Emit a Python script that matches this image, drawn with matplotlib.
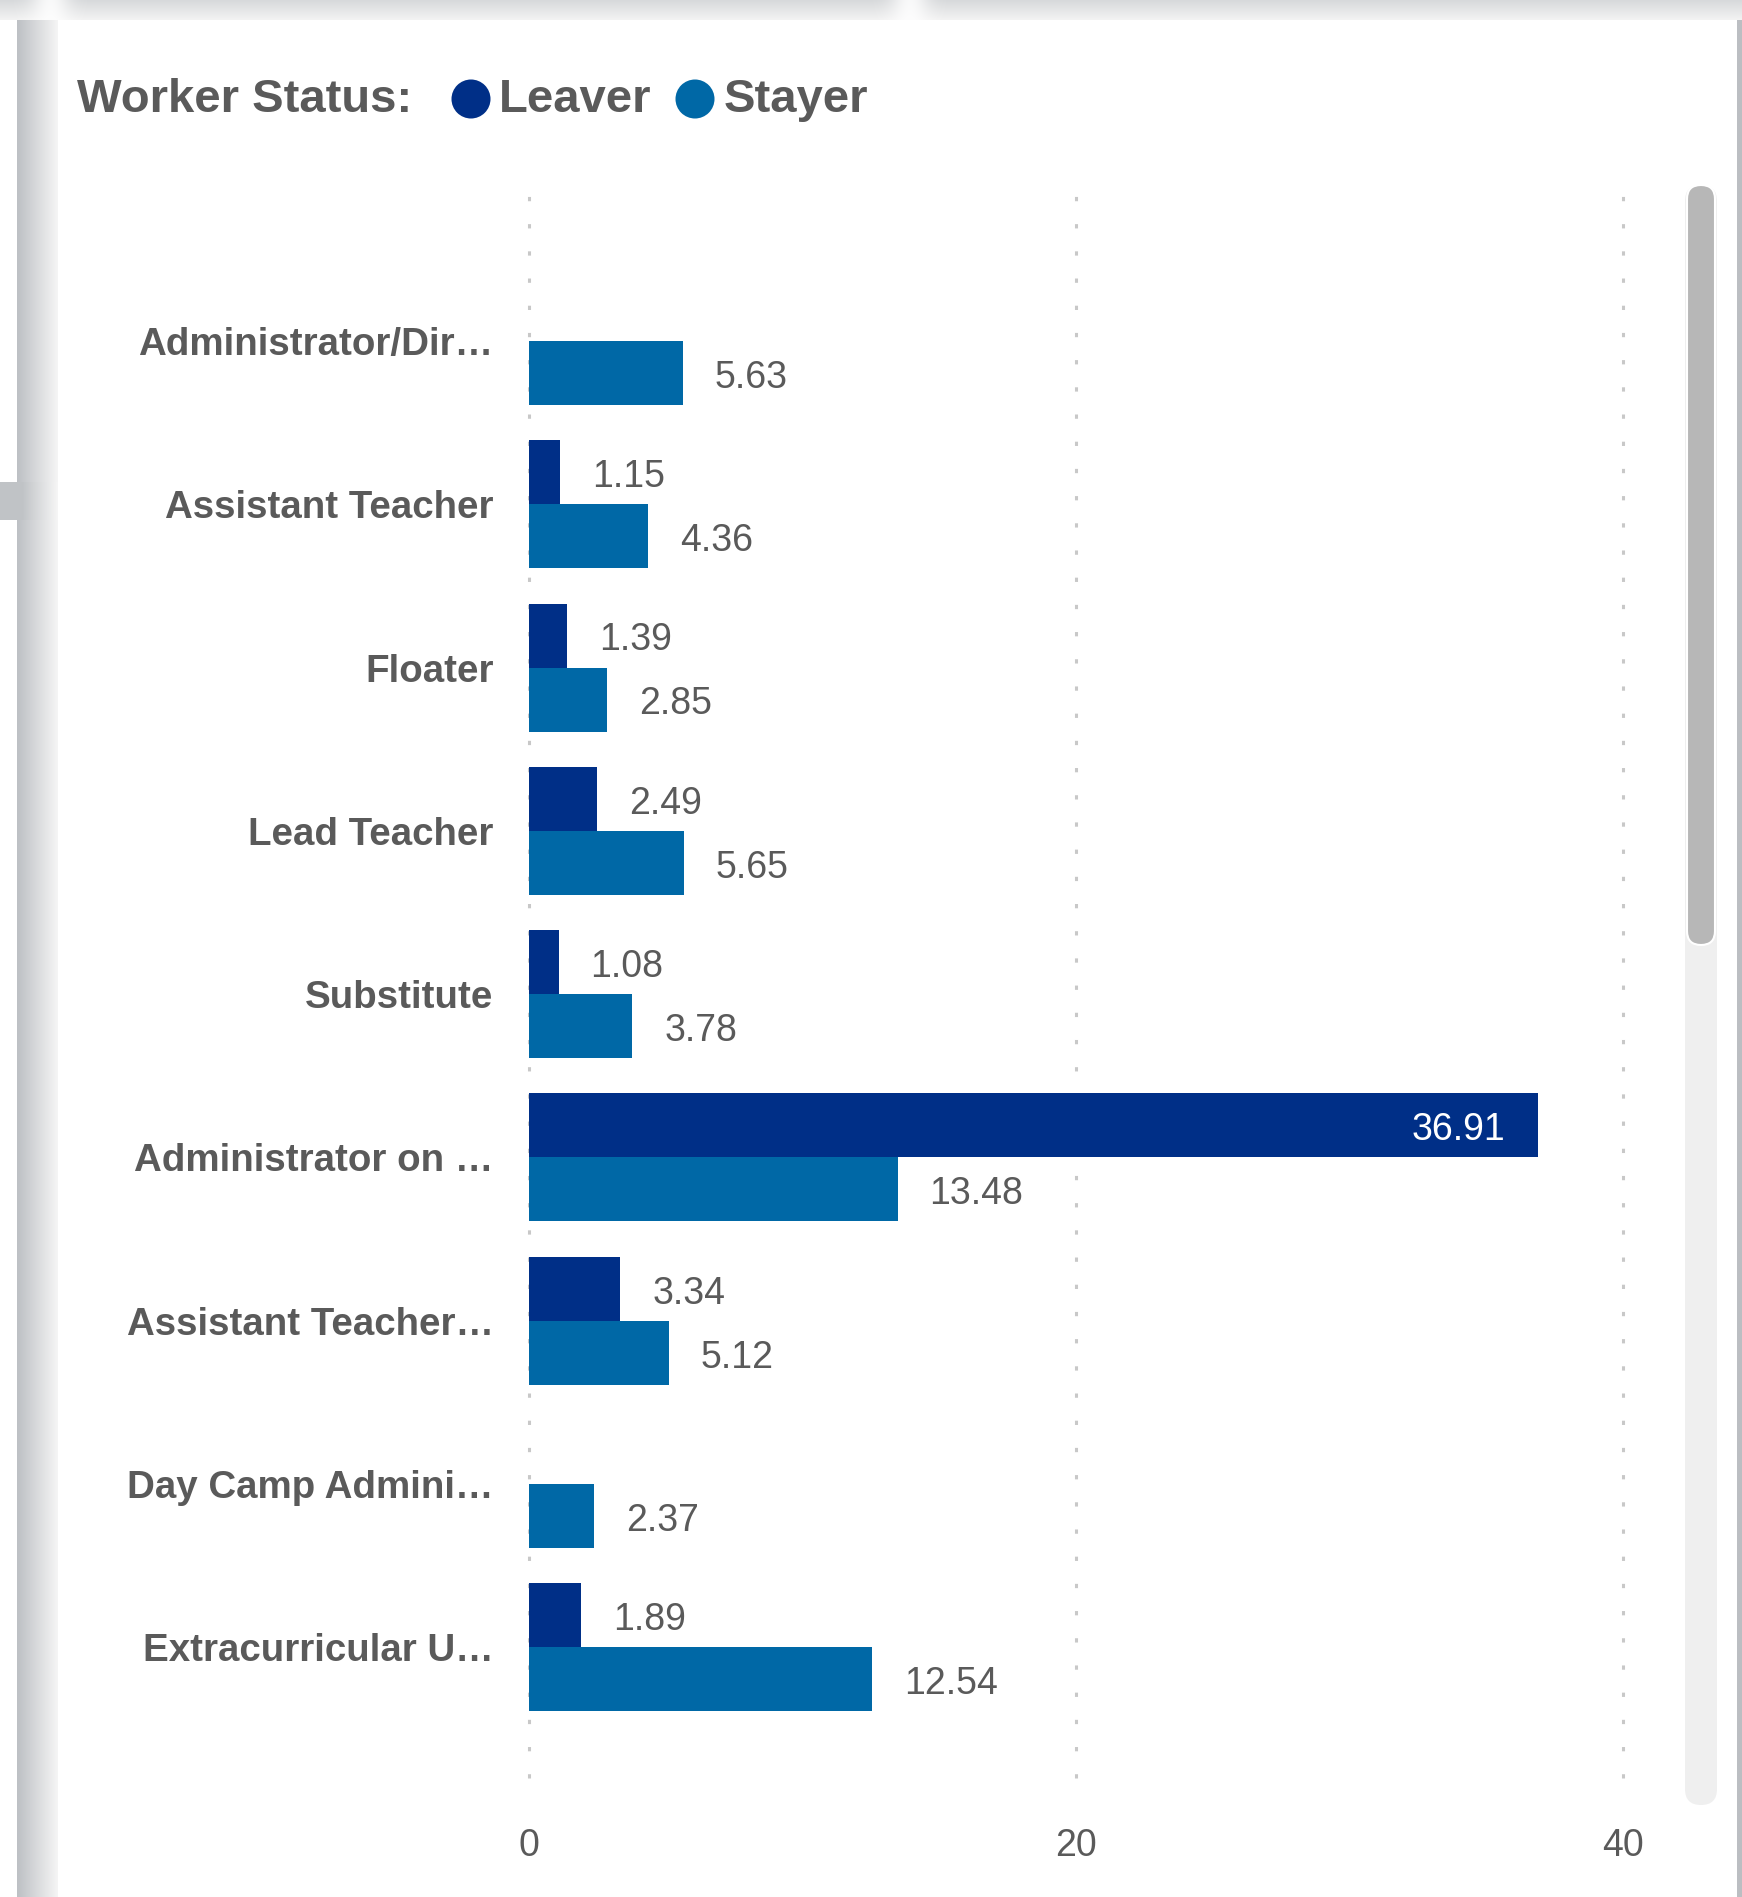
import numpy as np
import matplotlib
matplotlib.use("Agg")
import matplotlib.pyplot as plt
from matplotlib.patches import Circle, FancyBboxPatch, Rectangle

# ---------------- data ----------------
categories = ["Administrator/Dir\u2026", "Assistant Teacher", "Floater", "Lead Teacher",
              "Substitute", "Administrator on \u2026", "Assistant Teacher\u2026",
              "Day Camp Admini\u2026", "Extracurricular U\u2026"]
leaver = [np.nan, 1.15, 1.39, 2.49, 1.08, 36.91, 3.34, np.nan, 1.89]
stayer = [5.63, 4.36, 2.85, 5.65, 3.78, 13.48, 5.12, 2.37, 12.54]
x_ticks = [0, 20, 40]
legend_title = "Worker Status:"
series_names = ["Leaver", "Stayer"]

# ---------------- style ----------------
C_LEAVER = "#002F87"
C_STAYER = "#0068A6"
TXT = "#5A5A5A"
FONT = ["Liberation Sans", "DejaVu Sans"]
plt.rcParams["font.family"] = FONT

W, H = 1742, 1897
fig = plt.figure(figsize=(W / 100, H / 100), dpi=100)
fig.patch.set_facecolor("white")

# ---------------- background decoration (pixel coords) ----------------
bg = fig.add_axes([0, 0, 1, 1])
bg.axis("off")


def grad(x0, x1, y0, y1, c0, c1, horizontal=True, n=64, z=1):
    c0 = np.array(matplotlib.colors.to_rgb(c0))
    c1 = np.array(matplotlib.colors.to_rgb(c1))
    t = np.linspace(0, 1, n)
    cols = c0[None, :] * (1 - t[:, None]) + c1[None, :] * t[:, None]
    arr = cols[None, :, :] if horizontal else cols[:, None, :]
    bg.imshow(arr, extent=(x0, x1, y1, y0), aspect="auto", interpolation="bilinear",
              origin="upper", zorder=z)


# top band
grad(0, W, 0, 20, "#D7D9DB", "#F3F3F3", horizontal=False)
for cx in (50, 910):
    xs = np.linspace(-1, 1, 64)
    a = np.exp(-(xs ** 2) * 4)
    img = np.ones((1, 64, 4))
    img[..., 3] = a * 0.85
    bg.imshow(img, extent=(cx - 40, cx + 40, 20, 0), aspect="auto",
              interpolation="bilinear", zorder=2)
# left strip
grad(17, 57, 20, 482, "#BDC0C4", "#F5F5F5")
grad(17, 57, 520, H, "#BDC0C4", "#F5F5F5")
# horizontal edge of the neighbouring card
bg.add_patch(Rectangle((0, 482), 22, 38, facecolor="#C0C3C6", edgecolor="none", zorder=2))
grad(22, 57, 482, 520, "#C0C3C6", "#F6F6F6", z=2)
# right strip
bg.add_patch(Rectangle((1737, 20), 5, H - 20, facecolor="#BBBEC2", edgecolor="none", zorder=2))
# scrollbar
bg.add_patch(FancyBboxPatch((1685 + 16, 185 + 16), 0, 1805 - 185 - 32,
                            boxstyle="round,pad=16", facecolor="#EFEFEF",
                            edgecolor="none", zorder=3))
bg.add_patch(FancyBboxPatch((1687 + 14, 185 + 14), 0, 945 - 185 - 28,
                            boxstyle="round,pad=14", facecolor="#B7B7B7",
                            edgecolor="white", linewidth=1.5, zorder=4))
bg.set_xlim(0, W)
bg.set_ylim(H, 0)

# legend
ly = 100
fig.text(77 / W, 1 - ly / H, legend_title, fontsize=34, fontweight="bold", color=TXT,
         ha="left", va="center")
for cx, tx, name, col in [(471, 499, series_names[0], C_LEAVER),
                          (695, 724, series_names[1], C_STAYER)]:
    bg.add_patch(Circle((cx, ly - 1), 19.5, facecolor=col, edgecolor="none", zorder=5))
    fig.text(tx / W, 1 - ly / H, name, fontsize=34, fontweight="bold", color=TXT,
             ha="left", va="center")

# ---------------- main chart ----------------
ax_l, ax_r, ax_t, ax_b = 529, 1623, 194, 1778
ax = fig.add_axes([ax_l / W, 1 - ax_b / H, (ax_r - ax_l) / W, (ax_b - ax_t) / H])
ax.set_facecolor("none")
ax.set_xlim(0, 40)
ax.set_ylim(8.80, -0.90)

bh = 0.392
y = np.arange(len(categories))
ax.barh(y - bh / 2, leaver, height=bh, color=C_LEAVER, zorder=3)
ax.barh(y + bh / 2, stayer, height=bh, color=C_STAYER, zorder=3)

for xv in x_ticks:
    ax.axvline(xv, color="#C8C8C8", linewidth=2.2, linestyle=(0, (1.4, 7.5)),
               dash_capstyle="butt", zorder=1, clip_on=False)

for vals, yy in ((leaver, y - bh / 2), (stayer, y + bh / 2)):
    for v, yc in zip(vals, yy):
        if np.isnan(v):
            continue
        if v > 0.75 * ax.get_xlim()[1]:
            ax.annotate(f"{v:.2f}", xy=(v, yc), xytext=(-24, -3.5), textcoords="offset points",
                        ha="right", va="center", fontsize=27, color="white", zorder=5)
        else:
            ax.annotate(f"{v:.2f}", xy=(v, yc), xytext=(23, -3.5), textcoords="offset points",
                        ha="left", va="center", fontsize=27, color=TXT, zorder=5)

ax.set_yticks(y)
ax.set_yticklabels(categories, fontsize=27.7, fontweight="bold", color=TXT)
ax.set_xticks(x_ticks)
ax.set_xticklabels([str(t) for t in x_ticks], fontsize=27, color=TXT)
ax.tick_params(axis="y", length=0, pad=25.5)
ax.tick_params(axis="x", length=0, pad=36)
for s in ax.spines.values():
    s.set_visible(False)

fig.savefig("out.png", dpi=100, facecolor="white")
